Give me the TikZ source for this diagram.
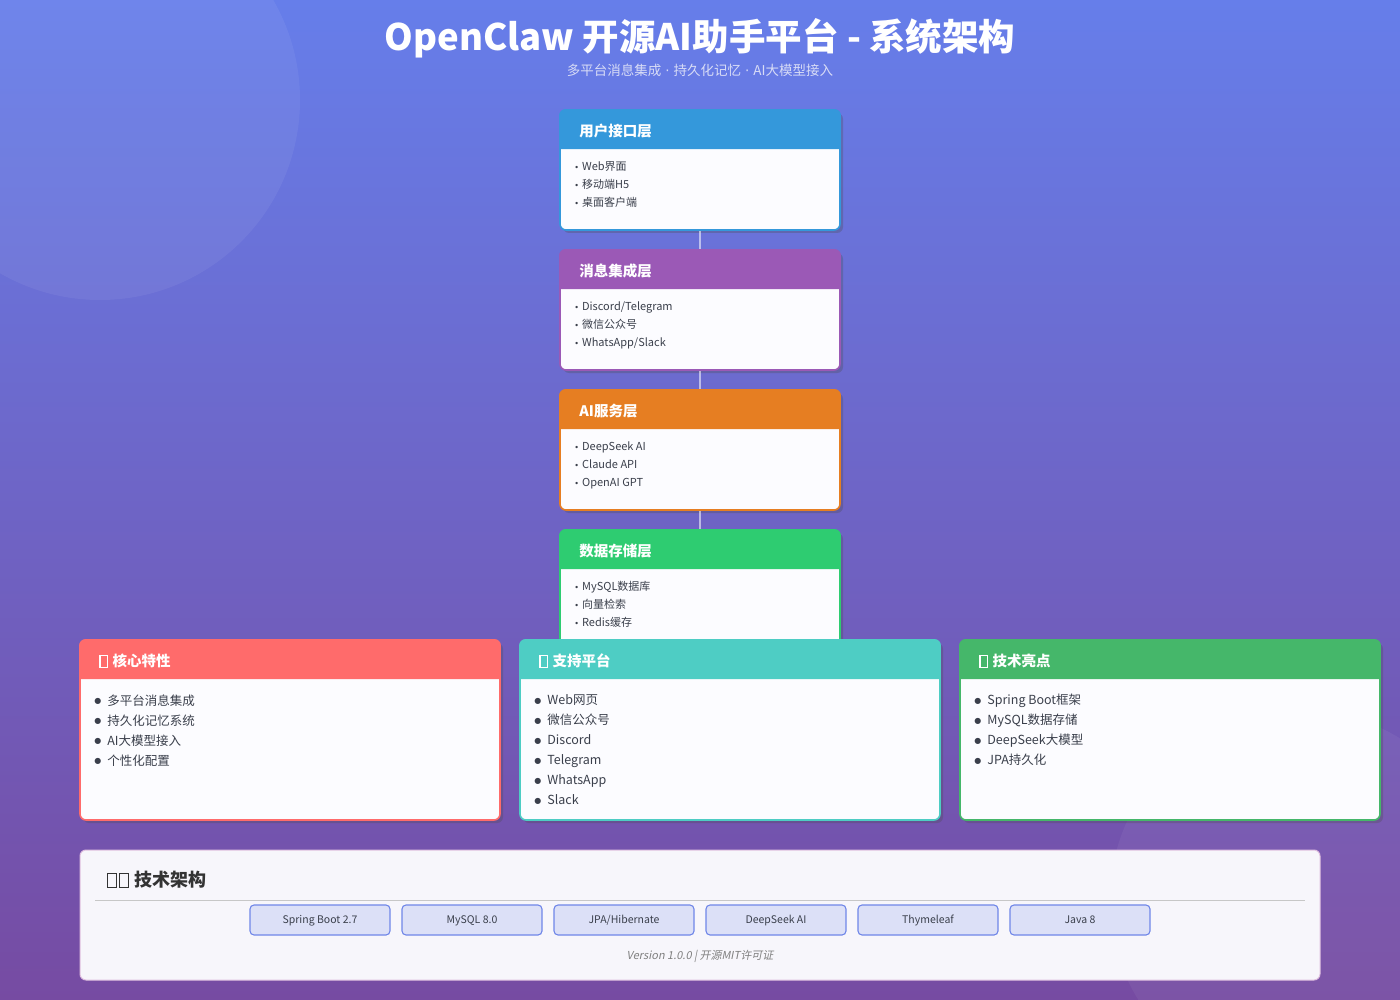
\documentclass[tikz,border=0pt]{standalone}
\usepackage{fontspec}
\setmainfont{Noto Sans CJK SC}
\newfontfamily\symfont{DejaVu Sans}
\newfontfamily\slantfont[FakeSlant=0.2]{Noto Sans CJK SC}
\usetikzlibrary{positioning,calc,shadows}

\definecolor{bgtop}{HTML}{667EEA}
\definecolor{bgbot}{HTML}{764BA2}
\definecolor{ui}{HTML}{3498DB}
\definecolor{msg}{HTML}{9B59B6}
\definecolor{ai}{HTML}{E67E22}
\definecolor{store}{HTML}{2ECC71}
\definecolor{feat}{HTML}{FF6B6B}
\definecolor{plat}{HTML}{4ECDC4}
\definecolor{tech}{HTML}{45B76A}
\definecolor{bodyc}{HTML}{FCFCFF}
\definecolor{itemc}{HTML}{3A3F4B}
\definecolor{pillfill}{HTML}{DCE0F7}
\definecolor{pilldraw}{HTML}{6F86E8}
\definecolor{panel}{HTML}{F7F6FB}
\definecolor{subc}{HTML}{D8DCF6}

% missing-glyph box, as printed in the headings
\newcommand{\tofu}{{\setlength{\fboxsep}{0pt}\setlength{\fboxrule}{1.1pt}\fbox{\rule{0pt}{0.72em}\hspace{0.42em}}}}
\newcommand{\dotb}{\raisebox{1.2pt}{\symfont\fontsize{8}{8}\selectfont ●}\hspace{6pt}}
\newcommand{\lb}{{\symfont\fontsize{8}{8}\selectfont •}\hspace{3pt}}
\newcommand{\mdot}{\hspace{4pt}{\symfont ·}\hspace{4pt}}

\begin{document}
\begin{tikzpicture}[
  x=1pt, y=-1pt,
  layer/.style={draw=#1, line width=1.6pt, fill=bodyc, rounded corners=6pt,
                minimum width=280pt, minimum height=120pt, inner sep=0pt,
                drop shadow={shadow xshift=3pt, shadow yshift=-3pt, opacity=0.3, fill=black!70}},
  card/.style={layer=#1, minimum width=420pt, minimum height=180pt},
  hdr/.style={font=\fontsize{14.5}{18}\selectfont\bfseries, text=white, anchor=west, inner sep=0pt},
  items/.style={font=\fontsize{11}{18}\selectfont, text=itemc, align=left, anchor=north west, inner sep=0pt},
  bigitems/.style={font=\fontsize{12.5}{20}\selectfont, text=itemc, align=left, anchor=north west, inner sep=0pt},
  link/.style={draw=white, draw opacity=0.55, line width=1.6pt},
  pill/.style={draw=pilldraw, line width=1.1pt, fill=pillfill, rounded corners=4pt,
               minimum width=140pt, minimum height=30pt, inner sep=0pt,
               text height=7.6pt, text depth=0pt,
               font=\fontsize{10.5}{12}\selectfont, text=itemc},
]
\useasboundingbox (0,0) rectangle (1400,1000);

% background
\shade[top color=bgtop, bottom color=bgbot] (0,0) rectangle (1400,1000);
\begin{scope}
  \clip (0,0) rectangle (1400,1000);
  \fill[white, opacity=0.06] (100,100) circle (200);
  \fill[white, opacity=0.05] (1300,900) circle (190);
\end{scope}

% title
\node[font=\fontsize{36.5}{40}\selectfont\bfseries, text=white] (title) at (700,38)
  {OpenClaw 开源AI助手平台 - 系统架构};
\node[font=\fontsize{13.5}{15}\selectfont, text=subc] (subtitle) at (700,70)
  {多平台消息集成\mdot 持久化记忆\mdot AI大模型接入};

% layer stack
\foreach \n/\c/\y/\t/\lst in {
  l1/ui/170/用户接口层/{\lb Web界面\\\lb 移动端H5\\\lb 桌面客户端},
  l2/msg/310/消息集成层/{\lb Discord/Telegram\\\lb 微信公众号\\\lb WhatsApp/Slack},
  l3/ai/450/AI服务层/{\lb DeepSeek AI\\\lb Claude API\\\lb OpenAI GPT},
  l4/store/590/数据存储层/{\lb MySQL数据库\\\lb 向量检索\\\lb Redis缓存}} {
  \node[layer=\c] (\n) at (700,\y) {};
  \fill[\c] ([yshift=-40pt]\n.north west) [rounded corners=6pt] -- (\n.north west)
    -- (\n.north east) [sharp corners] -- ([yshift=-40pt]\n.north east) -- cycle;
  \node[hdr] (\n h) at ([xshift=20pt, yshift=-22pt]\n.north west) {\t};
  \node[items] (\n i) at ([xshift=15pt, yshift=-52pt]\n.north west) {\lst};
}
\draw[link] (l1.south) -- (l2.north);
\draw[link] (l2.south) -- (l3.north);
\draw[link] (l3.south) -- (l4.north);

% feature cards
\foreach \n/\c/\x/\t/\lst in {
  c1/feat/290/核心特性/{\dotb 多平台消息集成\\\dotb 持久化记忆系统\\\dotb AI大模型接入\\\dotb 个性化配置},
  c2/plat/730/支持平台/{\dotb Web网页\\\dotb 微信公众号\\\dotb Discord\\\dotb Telegram\\\dotb WhatsApp\\\dotb Slack},
  c3/tech/1170/技术亮点/{\dotb Spring Boot框架\\\dotb MySQL数据存储\\\dotb DeepSeek大模型\\\dotb JPA持久化}} {
  \node[card=\c] (\n) at (\x,730) {};
  \fill[\c] ([yshift=-40pt]\n.north west) [rounded corners=6pt] -- (\n.north west)
    -- (\n.north east) [sharp corners] -- ([yshift=-40pt]\n.north east) -- cycle;
  \node[hdr] (\n h) at ([xshift=20pt, yshift=-22pt]\n.north west) {\tofu\hspace{5pt}\t};
  \node[bigitems] (\n i) at ([xshift=15pt, yshift=-55pt]\n.north west) {\lst};
}

% tech stack panel
\node[draw=white!75!violet, line width=1pt, fill=panel, rounded corners=6pt,
      minimum width=1240pt, minimum height=130pt, inner sep=0pt] (arch) at (700,915) {};
\node[font=\fontsize{18}{20}\selectfont\bfseries, text=black!80, anchor=west, inner sep=0pt]
  (archt) at (107,880) {\tofu\hspace{2pt}\tofu\hspace{6pt}技术架构};
\coordinate (rl) at (95,900);
\coordinate (rr) at (1305,900);
\draw[black!22, line width=0.8pt] (rl) -- (rr);
\foreach \i/\t in {0/Spring Boot 2.7, 1/MySQL 8.0, 2/{JPA/Hibernate}, 3/DeepSeek AI, 4/Thymeleaf, 5/Java 8} {
  \node[pill] (p\i) at ({320+\i*152}, 920) {\t};
}
\node[font=\fontsize{11}{13}\slantfont, text=black!50] (ver) at (700,956)
  {Version 1.0.0 | 开源MIT许可证};
\end{tikzpicture}
\end{document}
